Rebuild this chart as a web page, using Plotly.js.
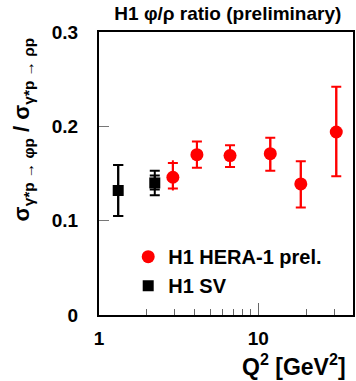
<!DOCTYPE html>
<html>
<head>
<meta charset="utf-8">
<script src="https://cdn.plot.ly/plotly-3.0.1.min.js"></script>
<style>html,body{margin:0;padding:0;background:#fff;}#chart{width:356px;height:381px;}</style>
</head>
<body>
<div id="chart"></div>
<script>
// H1 HERA-1 preliminary
const heraQ2 = [2.91, 4.12, 6.65, 11.9, 18.5, 30.9];
const heraRatio = [0.146, 0.170, 0.169, 0.171, 0.139, 0.194];
const heraErrUp = [0.015, 0.014, 0.011, 0.017, 0.024, 0.048];
const heraErrDown = [0.012, 0.014, 0.012, 0.018, 0.025, 0.047];
const heraTotUp = [0.018, 0.014, 0.011, 0.017, 0.024, 0.048];
const heraTotDown = [0.014, 0.014, 0.012, 0.018, 0.025, 0.047];
// H1 SV
const svQ2 = [1.32, 2.24];
const svRatio = [0.132, 0.140];
const svErrUp = [0.027, 0.013];
const svErrDown = [0.027, 0.013];
const svStatUp = [0.027, 0.008];
const svStatDown = [0.027, 0.007];

const FONT = 'Liberation Sans, Arial, sans-serif';
const RED = '#ff0000';

const traces = [
  {x: heraQ2, y: heraRatio, type: 'scatter', mode: 'markers', showlegend: false, hoverinfo: 'skip',
   marker: {color: RED, size: 0.1, opacity: 0},
   error_y: {type: 'data', symmetric: false, array: heraTotUp, arrayminus: heraTotDown, color: RED, thickness: 2, width: 0}},
  {x: svQ2, y: svRatio, type: 'scatter', mode: 'markers', showlegend: false, hoverinfo: 'skip',
   marker: {color: 'black', size: 0.1, opacity: 0},
   error_y: {type: 'data', symmetric: false, array: svStatUp, arrayminus: svStatDown, color: 'black', thickness: 2, width: 5}},
  {x: heraQ2, y: heraRatio, type: 'scatter', mode: 'markers', name: 'H1 HERA-1 prel.',
   marker: {color: RED, size: 13, symbol: 'circle'},
   error_y: {type: 'data', symmetric: false, array: heraErrUp, arrayminus: heraErrDown, color: RED, thickness: 2, width: 5}},
  {x: svQ2, y: svRatio, type: 'scatter', mode: 'markers', name: 'H1 SV',
   marker: {color: 'black', size: 11, symbol: 'square'},
   error_y: {type: 'data', symmetric: false, array: svErrUp, arrayminus: svErrDown, color: 'black', thickness: 2, width: 5}}
];

const layout = {
  width: 356, height: 381,
  margin: {l: 99, r: 3, t: 32, b: 66},
  paper_bgcolor: '#fff', plot_bgcolor: '#fff',
  font: {family: FONT, size: 19, color: 'black', weight: 'bold'},
  title: {text: '<b>H1 φ/ρ ratio (preliminary)</b>', font: {family: FONT, size: 19, weight: 'bold', color: 'black'},
          x: 0.64, xref: 'container', xanchor: 'center', y: 0.965, yref: 'container', yanchor: 'middle'},
  showlegend: true,
  legend: {x: 0.115, y: 0.275, xanchor: 'left', yanchor: 'top', bgcolor: 'rgba(0,0,0,0)',
           font: {family: FONT, size: 20, weight: 'bold', color: 'black'}, traceorder: 'normal', itemclick: false},
  xaxis: {type: 'log', range: [0, 1.595], showgrid: false, zeroline: false,
          showline: true, linecolor: 'black', linewidth: 2, mirror: true,
          tickvals: [1, 10], ticktext: ['1', '10'], ticks: 'inside', ticklen: 12, tickcolor: '#666', tickwidth: 1,
          ticklabelstandoff: 5,
          tickfont: {family: FONT, size: 19, weight: 'bold'},
          minor: {tickvals: [2,3,4,5,6,7,8,9,20,30], ticks: 'inside', ticklen: 6, tickcolor: '#666', tickwidth: 1, showgrid: false}},
  yaxis: {range: [0, 0.3], showgrid: false, zeroline: false,
          showline: true, linecolor: 'black', linewidth: 2, mirror: true,
          tickvals: [0, 0.1, 0.2, 0.3], ticktext: ['0', '0.1', '0.2', '0.3'],
          ticks: 'inside', ticklen: 10, tickcolor: '#777', tickwidth: 1, ticklabelstandoff: 15,
          tickfont: {family: FONT, size: 19, weight: 'bold'}},
  annotations: [
    {text: '<b>σ<sub>γ*p → φp</sub> / σ<sub>γ*p → ρp</sub></b>', textangle: -90,
     xref: 'paper', yref: 'paper', x: -0.3, y: 0.655, xanchor: 'center', yanchor: 'middle', showarrow: false,
     font: {family: FONT, size: 22, weight: 'bold', color: 'black'}},
    {text: '<b>Q<sup>2</sup> [GeV<sup>2</sup>]</b>', xref: 'paper', yref: 'paper', x: 0.98, y: -0.175,
     xanchor: 'right', yanchor: 'middle', showarrow: false,
     font: {family: FONT, size: 23, weight: 'bold', color: 'black'}}
  ]
};

Plotly.newPlot('chart', traces, layout, {displayModeBar: false, staticPlot: true});
</script>
</body>
</html>
